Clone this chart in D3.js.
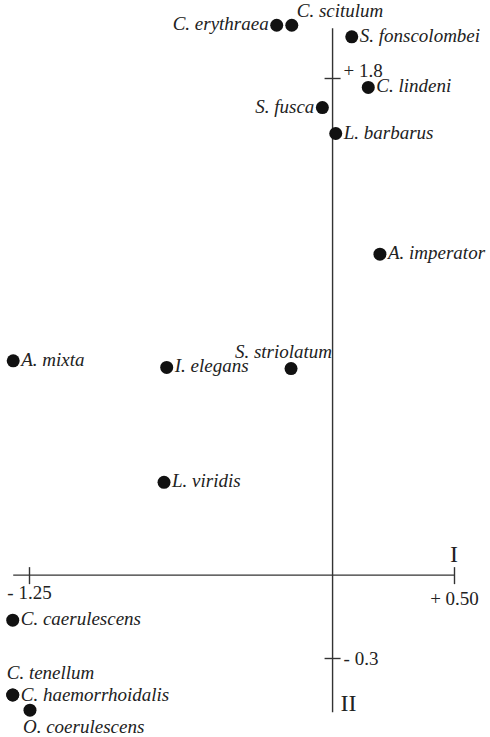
<!DOCTYPE html>
<html>
<head>
<meta charset="utf-8">
<script src="https://cdn.jsdelivr.net/npm/d3@7"></script>
<style>
  body { margin: 0; background: #fff; }
  svg { display: block; }
  .sp { font-family: "Liberation Serif", "DejaVu Serif", serif; font-style: italic; font-size: 19px; fill: #222; }
  .tk text { font-family: "Liberation Serif", serif; font-size: 19px; fill: #222; }
  .tk line, .ax { stroke: #333; stroke-width: 1.4; }
  .roman { font-family: "Liberation Serif", serif; font-size: 24px; fill: #222; }
</style>
</head>
<body>
<script>
//species and their scores on axis I and II
var species = ["C. erythraea", "C. scitulum", "S. fonscolombei", "C. lindeni", "S. fusca",
               "L. barbarus", "A. imperator", "A. mixta", "I. elegans", "S. striolatum",
               "L. viridis", "C. caerulescens", "C. tenellum", "C. haemorrhoidalis", "O. coerulescens"];
var axisI  = [-0.230, -0.168, 0.079, 0.147, -0.042, 0.013, 0.195, -1.315, -0.683, -0.171,
              -0.694, -1.317, -1.317, -1.317, -1.246];
var axisII = [1.991, 1.991, 1.949, 1.766, 1.693, 1.599, 1.162, 0.776, 0.752, 0.748,
              0.336, -0.163, -0.434, -0.434, -0.489];
// where each name sits relative to its dot
var labelSide = ["left", "aboveRight", "right", "right", "left",
                 "right", "right", "right", "right", "aboveLeft",
                 "right", "right", "above", "rightLow", "below"];

//axis ticks
var xTicks = [-1.25, 0.50];
var xTickLabels = ["- 1.25", "+ 0.50"];
var yTicks = [1.8, -0.3];
var yTickLabels = ["+ 1.8", "- 0.3"];
var xExtent = [-1.315, 0.50];
var yExtent = [-0.496, 1.98];

var W = 490, H = 737;
var svg = d3.select('body').append('svg').attr('width', W).attr('height', H);

var x = d3.scaleLinear().domain([-1.25, 0.50]).range([29, 454]);
var y = d3.scaleLinear().domain([-0.3, 1.8]).range([658, 78]);

//axis lines crossing at the origin
svg.append('line').attr('class', 'ax')
   .attr('x1', x(xExtent[0])).attr('x2', x(xExtent[1]))
   .attr('y1', y(0)).attr('y2', y(0));
svg.append('line').attr('class', 'ax')
   .attr('x1', x(0)).attr('x2', x(0))
   .attr('y1', y(yExtent[0])).attr('y2', y(yExtent[1]));

var xAxis = d3.axisBottom(x)
              .tickValues(xTicks)
              .tickSize(9)
              .tickPadding(3)
              .tickFormat((d, i) => xTickLabels[i]);
var gx = svg.append('g').attr('class', 'tk')
   .attr('transform', 'translate(0,' + y(0) + ')')
   .call(xAxis);
gx.select('.domain').remove();
gx.selectAll('line').attr('y1', -8).attr('stroke', null);
gx.selectAll('text').attr('font-size', null).attr('fill', null).attr('font-family', null)
  .attr('dy', d => d > 0 ? '0.95em' : '0.62em');

var yAxis = d3.axisRight(y)
              .tickValues(yTicks)
              .tickSize(8)
              .tickPadding(3)
              .tickFormat((d, i) => yTickLabels[i]);
var gy = svg.append('g').attr('class', 'tk')
   .attr('transform', 'translate(' + x(0) + ',0)')
   .call(yAxis);
gy.select('.domain').remove();
gy.selectAll('line').attr('x1', -8).attr('stroke', null);
gy.selectAll('text').attr('font-size', null).attr('fill', null).attr('font-family', null)
  .attr('dy', d => d > 0 ? '-0.1em' : '0.32em');

//axis names
svg.append('text').attr('class', 'roman')
   .attr('x', x(0.5)).attr('y', y(0) - 13)
   .attr('text-anchor', 'middle').text('I');
svg.append('text').attr('class', 'roman')
   .attr('x', x(0) + 8).attr('y', y(yExtent[0]) - 1)
   .text('II');

//the species
var pts = species.map((s, i) => ({name: s, a: axisI[i], b: axisII[i], side: labelSide[i]}));

svg.append('g').selectAll('circle')
   .data(pts).enter()
   .append('circle')
   .attr('cx', d => x(d.a))
   .attr('cy', d => y(d.b))
   .attr('r', 6.5)
   .attr('fill', '#111');

var off = {
  right:      {dx: 8,   dy: 5,   anchor: 'start'},
  rightLow:   {dx: 8,   dy: 6,   anchor: 'start'},
  left:       {dx: -8,  dy: 5,   anchor: 'end'},
  aboveRight: {dx: 5,   dy: -8,  anchor: 'start'},
  aboveLeft:  {dx: 41,  dy: -11, anchor: 'end'},
  above:      {dx: -6,  dy: -16, anchor: 'start'},
  below:      {dx: -7,  dy: 23,  anchor: 'start'}
};

svg.append('g').selectAll('text')
   .data(pts).enter()
   .append('text')
   .attr('class', 'sp')
   .attr('x', d => x(d.a) + off[d.side].dx)
   .attr('y', d => y(d.b) + off[d.side].dy)
   .attr('text-anchor', d => off[d.side].anchor)
   .text(d => d.name);
</script>
</body>
</html>
